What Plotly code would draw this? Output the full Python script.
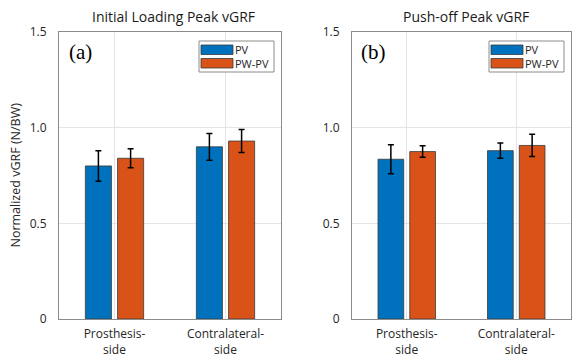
import plotly.graph_objects as go

# ---- data ----
categories = ["Prosthesis-<br>side", "Contralateral-<br>side"]
series_names = ["PV", "PW-PV"]
colors = ["#0072BD", "#D95319"]

loading_pv = [0.80, 0.90]
loading_pv_err = [0.08, 0.07]
loading_pwpv = [0.84, 0.93]
loading_pwpv_err = [0.05, 0.06]

pushoff_pv = [0.835, 0.88]
pushoff_pv_err = [0.076, 0.04]
pushoff_pwpv = [0.875, 0.907]
pushoff_pwpv_err = [0.03, 0.058]

panel_titles = ["Initial Loading Peak vGRF", "Push-off Peak vGRF"]
panel_tags = ["(a)", "(b)"]
y_tickvals = [0, 0.5, 1.0, 1.5]
y_ticktext = ["0", "0.5", "1.0", "1.5"]

W, H = 572, 358
FONT = "Open Sans, Noto Sans, sans-serif"

def px(x):
    return x / W

def py(y):
    return 1 - y / H

# axes pixel extents
ax_left = [(59, 281), (352, 571)]
ax_top, ax_bot = 32, 319

fig = go.Figure()

panel_data = [
    [(loading_pv, loading_pv_err), (loading_pwpv, loading_pwpv_err)],
    [(pushoff_pv, pushoff_pv_err), (pushoff_pwpv, pushoff_pwpv_err)],
]

for p, series in enumerate(panel_data):
    xa = "x" if p == 0 else "x2"
    ya = "y" if p == 0 else "y2"
    for s, (vals, errs) in enumerate(series):
        fig.add_trace(go.Bar(
            x=categories, y=vals, name=series_names[s],
            marker=dict(color=colors[s], line=dict(color="#3a3a3a", width=0.8)),
            error_y=dict(type="data", array=errs, visible=True,
                         color="black", thickness=1.5, width=3),
            xaxis=xa, yaxis=ya, showlegend=False,
            offsetgroup=str(s),
        ))

axis_common = dict(
    showline=True, mirror=True, linecolor="#8c8c8c", linewidth=1,
    showgrid=True, gridcolor="#e4e4e4", gridwidth=1,
    ticks="", tickfont=dict(family=FONT, size=12, color="#262626"),
    zeroline=False, automargin=False,
)

ydom = [py(ax_bot), py(ax_top)]
layout = dict(
    width=W, height=H,
    margin=dict(l=0, r=0, t=0, b=0, pad=0),
    paper_bgcolor="white", plot_bgcolor="white",
    barmode="group", bargap=0.42, bargroupgap=0.19,
    font=dict(family=FONT, size=12, color="#262626"),
    xaxis=dict(domain=[px(ax_left[0][0]), px(ax_left[0][1])], anchor="y",
               range=[-0.5, 1.5], ticklabelstandoff=4, **axis_common),
    yaxis=dict(domain=ydom, anchor="x", range=[0, 1.5],
               tickvals=y_tickvals, ticktext=y_ticktext, ticklabelstandoff=9, **axis_common),
    xaxis2=dict(domain=[px(ax_left[1][0]), px(ax_left[1][1])], anchor="y2",
                range=[-0.5, 1.5], ticklabelstandoff=4, **axis_common),
    yaxis2=dict(domain=ydom, anchor="x2", range=[0, 1.5],
                tickvals=y_tickvals, ticktext=y_ticktext, ticklabelstandoff=9, **axis_common),
)
fig.update_layout(**layout)

annotations = []
shapes = []
title_cx = [173, 466]
for p in range(2):
    x0, x1 = ax_left[p]
    annotations.append(dict(
        text=panel_titles[p], x=px(title_cx[p]), y=py(17), xref="paper", yref="paper",
        showarrow=False, xanchor="center", yanchor="middle",
        font=dict(family=FONT, size=14, color="#1a1a1a")))
    annotations.append(dict(
        text=panel_tags[p], x=px(x0 + 21), y=py(52), xref="paper", yref="paper",
        showarrow=False, xanchor="center", yanchor="middle",
        font=dict(family="Liberation Serif, Times New Roman, serif", size=21, color="black")))
    # legend box
    bx1 = x1 - 7
    bx0 = bx1 - 75
    shapes.append(dict(type="rect", xref="paper", yref="paper",
                       x0=px(bx0), x1=px(bx1), y0=py(72), y1=py(41),
                       line=dict(color="#8c8c8c", width=1), fillcolor="white"))
    for s in range(2):
        yt = 45 + s * 13.5
        shapes.append(dict(type="rect", xref="paper", yref="paper",
                           x0=px(bx0 + 2), x1=px(bx0 + 34), y0=py(yt + 9.5), y1=py(yt),
                           line=dict(color="#3a3a3a", width=0.8), fillcolor=colors[s]))
        annotations.append(dict(
            text=series_names[s], x=px(bx0 + 34), y=py(yt + 4.8), xref="paper", yref="paper",
            showarrow=False, xanchor="left", yanchor="middle",
            font=dict(family=FONT, size=11, color="#262626")))

annotations.append(dict(
    text="Normalized vGRF (N/BW)", x=px(15), y=py((ax_top + ax_bot) / 2),
    xref="paper", yref="paper", showarrow=False, textangle=-90,
    xanchor="center", yanchor="middle",
    font=dict(family=FONT, size=12.5, color="#262626")))

fig.update_layout(annotations=annotations, shapes=shapes)
fig.write_html("out.html")
